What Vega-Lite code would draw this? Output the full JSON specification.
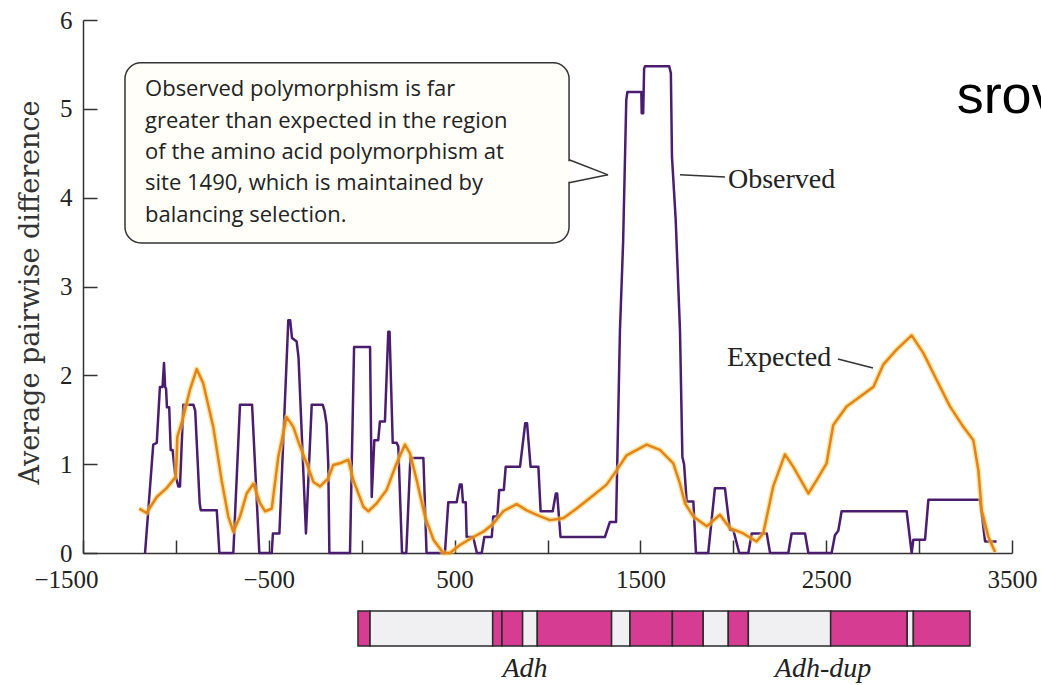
{
  "$schema": "https://vega.github.io/schema/vega-lite/v6.json",
  "width": 929,
  "height": 533,
  "autosize": {"type": "none"},
  "padding": {"left": 83, "top": 20, "right": 29, "bottom": 132},
  "background": "white",
  "config": {"view": {"stroke": null}},
  "resolve": {"axis": {"x": "independent", "y": "independent"}},
  "datasets": {
    "observed": [
      {"pos": -1166, "diff": 0}, {"pos": -1122, "diff": 1.22}, {"pos": -1103, "diff": 1.24}, {"pos": -1086, "diff": 1.87},
      {"pos": -1072, "diff": 1.87}, {"pos": -1064, "diff": 2.14}, {"pos": -1058, "diff": 1.87}, {"pos": -1053, "diff": 1.85},
      {"pos": -1048, "diff": 1.64}, {"pos": -1036, "diff": 1.64}, {"pos": -1028, "diff": 1.16}, {"pos": -1018, "diff": 1.16},
      {"pos": -1005, "diff": 0.9}, {"pos": -987, "diff": 0.75}, {"pos": -978, "diff": 0.75}, {"pos": -960, "diff": 1.67},
      {"pos": -906, "diff": 1.67}, {"pos": -896, "diff": 1.6}, {"pos": -872, "diff": 0.56}, {"pos": -866, "diff": 0.48},
      {"pos": -780, "diff": 0.48}, {"pos": -766, "diff": 0}, {"pos": -691, "diff": 0}, {"pos": -655, "diff": 1.67},
      {"pos": -590, "diff": 1.67}, {"pos": -551, "diff": 0}, {"pos": -484, "diff": 0}, {"pos": -478, "diff": 0.22},
      {"pos": -443, "diff": 0.22}, {"pos": -395, "diff": 2.62}, {"pos": -385, "diff": 2.62}, {"pos": -375, "diff": 2.42},
      {"pos": -350, "diff": 2.38}, {"pos": -340, "diff": 2.2}, {"pos": -300, "diff": 0.22}, {"pos": -269, "diff": 1.67},
      {"pos": -210, "diff": 1.67}, {"pos": -200, "diff": 1.6}, {"pos": -189, "diff": 1.45}, {"pos": -180, "diff": 1.0},
      {"pos": -174, "diff": 0}, {"pos": -63, "diff": 0}, {"pos": -41, "diff": 2.32}, {"pos": 45, "diff": 2.32},
      {"pos": 54, "diff": 0.63}, {"pos": 68, "diff": 1.27}, {"pos": 89, "diff": 1.27}, {"pos": 98, "diff": 1.48},
      {"pos": 125, "diff": 1.48}, {"pos": 143, "diff": 2.49}, {"pos": 150, "diff": 2.49}, {"pos": 167, "diff": 1.24},
      {"pos": 188, "diff": 1.24}, {"pos": 197, "diff": 1.2}, {"pos": 217, "diff": 0}, {"pos": 240, "diff": 0},
      {"pos": 262, "diff": 1.07}, {"pos": 332, "diff": 1.07}, {"pos": 349, "diff": 0}, {"pos": 448, "diff": 0},
      {"pos": 466, "diff": 0.57}, {"pos": 511, "diff": 0.57}, {"pos": 528, "diff": 0.77}, {"pos": 538, "diff": 0.77},
      {"pos": 545, "diff": 0.57}, {"pos": 560, "diff": 0.57}, {"pos": 565, "diff": 0.18}, {"pos": 600, "diff": 0.18},
      {"pos": 620, "diff": 0}, {"pos": 646, "diff": 0}, {"pos": 660, "diff": 0.18}, {"pos": 700, "diff": 0.18},
      {"pos": 708, "diff": 0.41}, {"pos": 730, "diff": 0.41}, {"pos": 740, "diff": 0.71}, {"pos": 765, "diff": 0.71},
      {"pos": 775, "diff": 0.97}, {"pos": 852, "diff": 0.97}, {"pos": 880, "diff": 1.46}, {"pos": 890, "diff": 1.46},
      {"pos": 909, "diff": 0.97}, {"pos": 951, "diff": 0.97}, {"pos": 963, "diff": 0.47}, {"pos": 1028, "diff": 0.47},
      {"pos": 1045, "diff": 0.67}, {"pos": 1052, "diff": 0.67}, {"pos": 1070, "diff": 0.18}, {"pos": 1309, "diff": 0.18},
      {"pos": 1336, "diff": 0.35}, {"pos": 1369, "diff": 0.35}, {"pos": 1390, "diff": 2.51}, {"pos": 1407, "diff": 3.5},
      {"pos": 1424, "diff": 5.1}, {"pos": 1430, "diff": 5.19}, {"pos": 1505, "diff": 5.19}, {"pos": 1507, "diff": 4.95},
      {"pos": 1515, "diff": 4.95}, {"pos": 1520, "diff": 5.45}, {"pos": 1525, "diff": 5.48}, {"pos": 1655, "diff": 5.48},
      {"pos": 1664, "diff": 5.4}, {"pos": 1670, "diff": 4.46}, {"pos": 1690, "diff": 3.75}, {"pos": 1713, "diff": 2.51},
      {"pos": 1726, "diff": 1.08}, {"pos": 1735, "diff": 1.0}, {"pos": 1749, "diff": 0.58}, {"pos": 1785, "diff": 0.58},
      {"pos": 1799, "diff": 0}, {"pos": 1865, "diff": 0}, {"pos": 1901, "diff": 0.73}, {"pos": 1955, "diff": 0.73},
      {"pos": 1982, "diff": 0.26}, {"pos": 2000, "diff": 0.26}, {"pos": 2032, "diff": 0}, {"pos": 2081, "diff": 0},
      {"pos": 2099, "diff": 0.22}, {"pos": 2180, "diff": 0.22}, {"pos": 2198, "diff": 0}, {"pos": 2296, "diff": 0},
      {"pos": 2314, "diff": 0.22}, {"pos": 2386, "diff": 0.22}, {"pos": 2404, "diff": 0}, {"pos": 2529, "diff": 0},
      {"pos": 2547, "diff": 0.2}, {"pos": 2565, "diff": 0.25}, {"pos": 2583, "diff": 0.47}, {"pos": 2933, "diff": 0.47},
      {"pos": 2960, "diff": 0}, {"pos": 2969, "diff": 0.15}, {"pos": 3032, "diff": 0.15}, {"pos": 3050, "diff": 0.6},
      {"pos": 3328, "diff": 0.6}, {"pos": 3355, "diff": 0.13}, {"pos": 3417, "diff": 0.13}
    ],
    "expected": [
      {"pos": -1197, "diff": 0.5}, {"pos": -1158, "diff": 0.45}, {"pos": -1103, "diff": 0.63}, {"pos": -1050, "diff": 0.73},
      {"pos": -1000, "diff": 0.86}, {"pos": -992, "diff": 1.31}, {"pos": -964, "diff": 1.5}, {"pos": -924, "diff": 1.84},
      {"pos": -888, "diff": 2.07}, {"pos": -853, "diff": 1.91}, {"pos": -799, "diff": 1.42}, {"pos": -754, "diff": 0.82},
      {"pos": -718, "diff": 0.41}, {"pos": -691, "diff": 0.24}, {"pos": -655, "diff": 0.41}, {"pos": -619, "diff": 0.67},
      {"pos": -583, "diff": 0.78}, {"pos": -547, "diff": 0.56}, {"pos": -520, "diff": 0.47}, {"pos": -484, "diff": 0.5},
      {"pos": -449, "diff": 1.08}, {"pos": -404, "diff": 1.53}, {"pos": -368, "diff": 1.42}, {"pos": -332, "diff": 1.2},
      {"pos": -296, "diff": 1.01}, {"pos": -260, "diff": 0.8}, {"pos": -224, "diff": 0.75}, {"pos": -180, "diff": 0.84},
      {"pos": -153, "diff": 0.99}, {"pos": -117, "diff": 1.01}, {"pos": -72, "diff": 1.05}, {"pos": -45, "diff": 0.82},
      {"pos": 9, "diff": 0.52}, {"pos": 36, "diff": 0.47}, {"pos": 81, "diff": 0.56}, {"pos": 134, "diff": 0.71},
      {"pos": 188, "diff": 1.01}, {"pos": 233, "diff": 1.22}, {"pos": 260, "diff": 1.12}, {"pos": 296, "diff": 0.82},
      {"pos": 341, "diff": 0.41}, {"pos": 386, "diff": 0.15}, {"pos": 439, "diff": 0.0}, {"pos": 475, "diff": 0.0},
      {"pos": 529, "diff": 0.09}, {"pos": 601, "diff": 0.18}, {"pos": 655, "diff": 0.24}, {"pos": 708, "diff": 0.33},
      {"pos": 762, "diff": 0.47}, {"pos": 834, "diff": 0.55}, {"pos": 888, "diff": 0.48}, {"pos": 942, "diff": 0.43},
      {"pos": 1013, "diff": 0.37}, {"pos": 1085, "diff": 0.39}, {"pos": 1157, "diff": 0.5}, {"pos": 1247, "diff": 0.65},
      {"pos": 1318, "diff": 0.77}, {"pos": 1372, "diff": 0.93}, {"pos": 1426, "diff": 1.1}, {"pos": 1534, "diff": 1.22},
      {"pos": 1605, "diff": 1.16}, {"pos": 1677, "diff": 1.01}, {"pos": 1713, "diff": 0.78}, {"pos": 1740, "diff": 0.56},
      {"pos": 1785, "diff": 0.41}, {"pos": 1857, "diff": 0.3}, {"pos": 1928, "diff": 0.43}, {"pos": 1982, "diff": 0.28},
      {"pos": 2054, "diff": 0.22}, {"pos": 2125, "diff": 0.13}, {"pos": 2161, "diff": 0.22}, {"pos": 2215, "diff": 0.75},
      {"pos": 2278, "diff": 1.11}, {"pos": 2323, "diff": 0.97}, {"pos": 2404, "diff": 0.67}, {"pos": 2449, "diff": 0.82},
      {"pos": 2502, "diff": 1.01}, {"pos": 2538, "diff": 1.44}, {"pos": 2610, "diff": 1.65}, {"pos": 2682, "diff": 1.76},
      {"pos": 2754, "diff": 1.87}, {"pos": 2807, "diff": 2.12}, {"pos": 2879, "diff": 2.29}, {"pos": 2960, "diff": 2.45},
      {"pos": 3023, "diff": 2.25}, {"pos": 3094, "diff": 1.95}, {"pos": 3166, "diff": 1.65}, {"pos": 3238, "diff": 1.42},
      {"pos": 3292, "diff": 1.27}, {"pos": 3319, "diff": 0.93}, {"pos": 3337, "diff": 0.48}, {"pos": 3373, "diff": 0.18},
      {"pos": 3409, "diff": 0.01}
    ],
    "gene": [
      {"start": -20, "end": 45, "kind": "exon"}, {"start": 45, "end": 705, "kind": "intron"},
      {"start": 705, "end": 755, "kind": "exon"}, {"start": 755, "end": 866, "kind": "exon"},
      {"start": 866, "end": 945, "kind": "intron"}, {"start": 945, "end": 1345, "kind": "exon"},
      {"start": 1345, "end": 1444, "kind": "intron"}, {"start": 1444, "end": 1672, "kind": "exon"},
      {"start": 1672, "end": 1838, "kind": "exon"}, {"start": 1838, "end": 1973, "kind": "intron"},
      {"start": 1973, "end": 2081, "kind": "exon"}, {"start": 2081, "end": 2524, "kind": "intron"},
      {"start": 2524, "end": 2936, "kind": "exon"}, {"start": 2936, "end": 2969, "kind": "intron"},
      {"start": 2969, "end": 3274, "kind": "exon"}
    ],
    "geneLabels": [
      {"pos": 879, "level": -1.391, "name": "Adh"},
      {"pos": 2483, "level": -1.391, "name": "Adh-dup"}
    ],
    "box": [{"x1": -1274, "x2": 1116, "y1": 5.518, "y2": 3.491}],
    "tailGap": [{"x": 1116, "y1": 4.41, "y2": 4.18}],
    "leaders": [
      {"x1": 1116, "y1": 4.426, "x2": 1326, "y2": 4.257},
      {"x1": 1326, "y1": 4.257, "x2": 1116, "y2": 4.167},
      {"x1": 1713, "y1": 4.257, "x2": 1955, "y2": 4.234},
      {"x1": 2563, "y1": 2.185, "x2": 2752, "y2": 2.083}
    ],
    "callout": [
      {"pos": -1166, "level": 5.139, "line": "Observed polymorphism is far"},
      {"pos": -1166, "level": 4.786, "line": "greater than expected in the region"},
      {"pos": -1166, "level": 4.434, "line": "of the amino acid polymorphism at"},
      {"pos": -1166, "level": 4.081, "line": "site 1490, which is maintained by"},
      {"pos": -1166, "level": 3.727, "line": "balancing selection."}
    ],
    "seriesLabels": [
      {"pos": 1971, "level": 4.11, "name": "Observed"},
      {"pos": 1966, "level": 2.106, "name": "Expected"}
    ],
    "note": [{"pos": 3202, "level": 4.955, "word": "srov"}]
  },
  "layer": [
    {
      "data": {"name": "observed"},
      "mark": {"type": "line", "stroke": "#4a1d6e", "strokeWidth": 2.5, "strokeJoin": "round"},
      "encoding": {
        "x": {"field": "pos", "type": "quantitative", "scale": {"domain": [-1500, 3500], "nice": false, "zero": false},
          "axis": {"values": [-1500, -1000, -500, 0, 500, 1000, 1500, 2000, 2500, 3000, 3500], "format": "d",
            "labelExpr": "datum.value % 1000 != 0 ? datum.label : ''", "title": null, "grid": false,
            "domainColor": "#333", "domainWidth": 1.5, "tickColor": "#333", "tickWidth": 1.5, "tickSize": -13,
            "labelOffset": {"condition": {"test": "datum.value == -1500", "value": -17}, "value": 0},
            "labelFont": "Liberation Serif", "labelFontSize": 25, "labelColor": "#222", "labelPadding": 27, "labelFlush": false, "labelOverlap": false}},
        "y": {"field": "diff", "type": "quantitative", "scale": {"domain": [0, 6], "nice": false, "zero": false},
          "axis": {"values": [0, 0.5, 1, 1.5, 2, 2.5, 3, 3.5, 4, 4.5, 5, 5.5, 6], "format": "d",
            "labelExpr": "datum.value % 1 == 0 ? datum.label : ''", "grid": false,
            "title": "Average pairwise difference", "titleFont": "DejaVu Serif", "titleFontSize": 27, "titleFontWeight": "normal",
            "titleColor": "#333", "titleX": -53, "titleY": 272, "titleAngle": -90, "titleAlign": "center", "titleBaseline": "middle",
            "domainColor": "#333", "domainWidth": 1.5, "tickColor": "#333", "tickWidth": 1.5, "tickSize": -14,
            "labelFont": "Liberation Serif", "labelFontSize": 25, "labelColor": "#222", "labelPadding": 25, "labelFlush": false, "labelOverlap": false}}
      }
    },
    {
      "data": {"name": "expected"},
      "mark": {"type": "line", "stroke": "#f7cf5a", "strokeWidth": 5.5, "opacity": 0.55, "strokeJoin": "round"},
      "encoding": {
        "x": {"field": "pos", "type": "quantitative", "scale": {"domain": [-1500, 3500], "nice": false, "zero": false}, "axis": null},
        "y": {"field": "diff", "type": "quantitative", "scale": {"domain": [0, 6], "nice": false, "zero": false}, "axis": null}
      }
    },
    {
      "data": {"name": "expected"},
      "mark": {"type": "line", "stroke": "#e2841a", "strokeWidth": 2.5, "strokeJoin": "round"},
      "encoding": {
        "x": {"field": "pos", "type": "quantitative", "axis": null},
        "y": {"field": "diff", "type": "quantitative", "axis": null}
      }
    },
    {
      "data": {"name": "gene"},
      "mark": {"type": "rect", "stroke": "#2a2a2a", "strokeWidth": 1.5},
      "encoding": {
        "x": {"field": "start", "type": "quantitative", "axis": null},
        "x2": {"field": "end"},
        "y": {"datum": -0.653, "type": "quantitative", "axis": null},
        "y2": {"datum": -1.047},
        "fill": {"field": "kind", "type": "nominal", "scale": {"domain": ["exon", "intron"], "range": ["#d63c92", "#f0f0f3"]}, "legend": null}
      }
    },
    {
      "data": {"name": "geneLabels"},
      "mark": {"type": "text", "font": "Liberation Serif", "fontSize": 28, "fontStyle": "italic", "align": "center", "baseline": "alphabetic", "color": "#222"},
      "encoding": {
        "x": {"field": "pos", "type": "quantitative", "axis": null},
        "y": {"field": "level", "type": "quantitative", "axis": null},
        "text": {"field": "name"}
      }
    },
    {
      "data": {"name": "box"},
      "mark": {"type": "rect", "fill": "#fffef8", "stroke": "#333", "strokeWidth": 1.5, "cornerRadius": 16},
      "encoding": {
        "x": {"field": "x1", "type": "quantitative", "axis": null},
        "x2": {"field": "x2"},
        "y": {"field": "y1", "type": "quantitative", "axis": null},
        "y2": {"field": "y2"}
      }
    },
    {
      "data": {"name": "tailGap"},
      "mark": {"type": "rule", "stroke": "#fffef8", "strokeWidth": 3},
      "encoding": {
        "x": {"field": "x", "type": "quantitative", "axis": null},
        "y": {"field": "y1", "type": "quantitative", "axis": null},
        "y2": {"field": "y2"}
      }
    },
    {
      "data": {"name": "leaders"},
      "mark": {"type": "rule", "stroke": "#333", "strokeWidth": 1.5},
      "encoding": {
        "x": {"field": "x1", "type": "quantitative", "axis": null},
        "y": {"field": "y1", "type": "quantitative", "axis": null},
        "x2": {"field": "x2"},
        "y2": {"field": "y2"}
      }
    },
    {
      "data": {"name": "callout"},
      "mark": {"type": "text", "font": "Open Sans", "fontSize": 22, "align": "left", "baseline": "alphabetic", "color": "#222"},
      "encoding": {
        "x": {"field": "pos", "type": "quantitative", "axis": null},
        "y": {"field": "level", "type": "quantitative", "axis": null},
        "text": {"field": "line"}
      }
    },
    {
      "data": {"name": "seriesLabels"},
      "mark": {"type": "text", "font": "Liberation Serif", "fontSize": 28, "align": "left", "baseline": "alphabetic", "color": "#222"},
      "encoding": {
        "x": {"field": "pos", "type": "quantitative", "axis": null},
        "y": {"field": "level", "type": "quantitative", "axis": null},
        "text": {"field": "name"}
      }
    },
    {
      "data": {"name": "note"},
      "mark": {"type": "text", "font": "Liberation Sans", "fontSize": 54, "align": "left", "baseline": "alphabetic", "color": "#000"},
      "encoding": {
        "x": {"field": "pos", "type": "quantitative", "axis": null},
        "y": {"field": "level", "type": "quantitative", "axis": null},
        "text": {"field": "word"}
      }
    }
  ]
}
